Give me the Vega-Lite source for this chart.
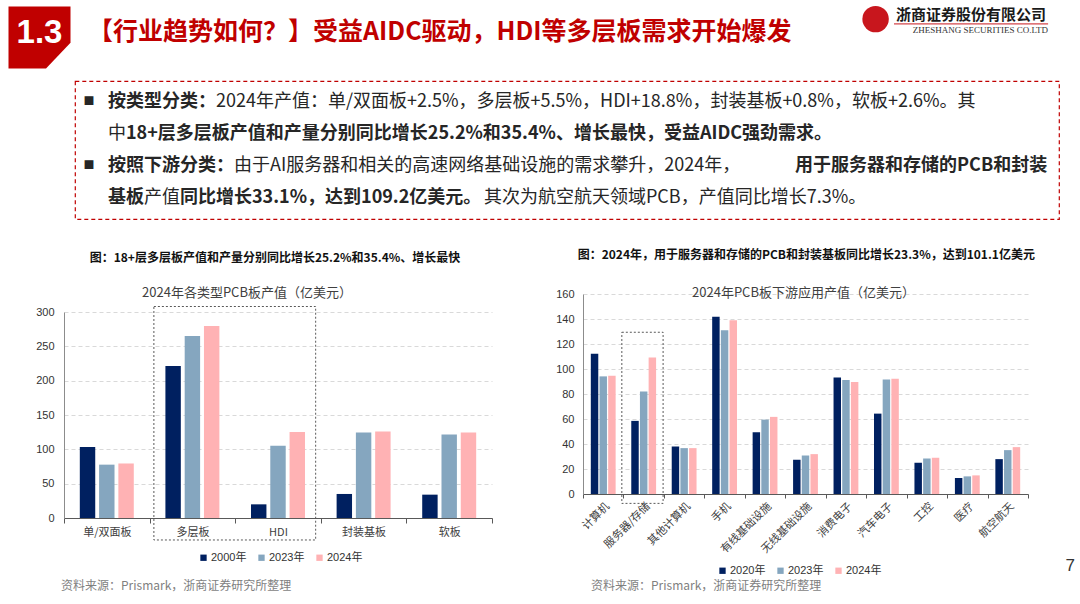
{
  "$schema": "https://vega.github.io/schema/vega-lite/v6.json",
  "background": "white",
  "padding": {"left": 8, "top": 5, "right": 0, "bottom": 0},
  "config": {
    "view": {"stroke": null},
    "font": "Noto Sans CJK SC",
    "title": {"font": "Noto Sans CJK SC"}
  },
  "spacing": 0,
  "resolve": {"scale": {"color": "independent", "xOffset": "independent"}, "legend": {"color": "independent"}},
  "vconcat": [
    {
      "spacing": 17,
      "hconcat": [
        {
          "width": 61, "height": 63,
          "data": {"values": [{"section": "1.3"}]},
          "layer": [
            {"mark": {"type": "point", "shape": "M -1 -1 L 1 -1 L 1 0.17 L 0.21 1 L -1 1 Z", "filled": true, "color": "#C00000", "size": 3844, "opacity": 1, "strokeWidth": 0}, "encoding": {}},
            {"mark": {"type": "text", "font": "Liberation Sans", "fontSize": 33, "fontWeight": "bold", "color": "#FFFFFF", "dy": -5}, "encoding": {"text": {"field": "section"}}}
          ]
        },
        {
          "width": 755, "height": 63,
          "data": {"values": [{"heading": "【行业趋势如何？】受益AIDC驱动，HDI等多层板需求开始爆发"}]},
          "mark": {"type": "text", "align": "left", "baseline": "middle", "fontSize": 25, "fontWeight": "bold", "color": "#C00000", "dy": -6},
          "encoding": {
            "x": {"datum": 0, "type": "quantitative", "scale": {"domain": [0, 1]}, "axis": null},
            "text": {"field": "heading"}
          }
        },
        {
          "width": 190, "height": 32,
          "data": {"values": [{"cn": "浙商证券股份有限公司", "en": "ZHESHANG SECURITIES CO.LTD"}]},
          "layer": [
            {"mark": {"type": "point", "shape": "circle", "filled": true, "color": "#C8161D", "size": 700, "opacity": 1},
             "encoding": {"x": {"datum": 0.082, "type": "quantitative", "scale": {"domain": [0, 1]}, "axis": null},
                          "y": {"datum": 0.41, "type": "quantitative", "scale": {"domain": [0, 1], "reverse": true}, "axis": null}}},
            {"mark": {"type": "text", "align": "right", "baseline": "middle", "fontSize": 15, "fontWeight": "bold", "color": "#1A1A1A"},
             "encoding": {"x": {"datum": 0.979, "type": "quantitative", "scale": {"domain": [0, 1]}, "axis": null},
                          "y": {"datum": 0.28, "type": "quantitative", "scale": {"domain": [0, 1], "reverse": true}, "axis": null},
                          "text": {"field": "cn"}}},
            {"mark": {"type": "rule", "color": "#C8161D", "strokeWidth": 1},
             "encoding": {"x": {"datum": 0.179, "type": "quantitative", "scale": {"domain": [0, 1]}, "axis": null},
                          "x2": {"datum": 0.99},
                          "y": {"datum": 0.56, "type": "quantitative", "scale": {"domain": [0, 1], "reverse": true}, "axis": null}}},
            {"mark": {"type": "text", "align": "right", "baseline": "middle", "fontSize": 9, "font": "Liberation Serif", "color": "#333333"},
             "encoding": {"x": {"datum": 0.99, "type": "quantitative", "scale": {"domain": [0, 1]}, "axis": null},
                          "y": {"datum": 0.76, "type": "quantitative", "scale": {"domain": [0, 1], "reverse": true}, "axis": null},
                          "text": {"field": "en"}}}
          ]
        }
      ]
    },
    {"width": 1, "height": 11, "data": {"values": []}, "mark": "text"},
    {
      "spacing": 0,
      "hconcat": [
        {"width": 65, "height": 1, "data": {"values": []}, "mark": "text"},
        {
          "width": 984, "height": 138,
          "view": {"stroke": "#C00000", "strokeDash": [4, 3], "strokeWidth": 1.2},
          "data": {"values": [
            {"line": 1, "part": "bullet", "text": "■"},
            {"line": 1, "part": "a", "text": "按类型分类："},
            {"line": 1, "part": "b", "text": "2024年产值：单/双面板+2.5%，多层板+5.5%，HDI+18.8%，封装基板+0.8%，软板+2.6%。其"},
            {"line": 2, "part": "a", "text": "中"},
            {"line": 2, "part": "b", "text": "18+层多层板产值和产量分别同比增长25.2%和35.4%、增长最快，受益AIDC强劲需求。"},
            {"line": 3, "part": "bullet", "text": "■"},
            {"line": 3, "part": "a", "text": "按照下游分类："},
            {"line": 3, "part": "b", "text": "由于AI服务器和相关的高速网络基础设施的需求攀升，2024年，"},
            {"line": 3, "part": "c", "text": "用于服务器和存储的PCB和封装"},
            {"line": 4, "part": "a", "text": "基板"},
            {"line": 4, "part": "b", "text": "产值"},
            {"line": 4, "part": "c", "text": "同比增长33.1%，达到109.2亿美元。"},
            {"line": 4, "part": "d", "text": "其次为航空航天领域PCB，产值同比增长7.3%。"}
          ]},
          "encoding": {
            "y": {"field": "line", "type": "ordinal", "scale": {"type": "point", "padding": 0.656}, "axis": null},
            "text": {"field": "text"}
          },
          "layer": [
            {"transform": [{"filter": "datum.part == 'bullet'"}],
             "mark": {"type": "text", "align": "center", "baseline": "middle", "fontSize": 11, "color": "#262626"},
             "encoding": {"x": {"datum": 0.0142, "type": "quantitative", "scale": {"domain": [0, 1]}, "axis": null}}},
            {"transform": [{"filter": "datum.part == 'a' && datum.line != 2"}],
             "mark": {"type": "text", "align": "left", "baseline": "middle", "fontSize": 18, "fontWeight": "bold", "color": "#262626"},
             "encoding": {"x": {"datum": 0.0335, "type": "quantitative", "scale": {"domain": [0, 1]}, "axis": null}}},
            {"transform": [{"filter": "datum.part == 'a' && datum.line == 2"}],
             "mark": {"type": "text", "align": "left", "baseline": "middle", "fontSize": 18, "color": "#262626"},
             "encoding": {"x": {"datum": 0.0335, "type": "quantitative", "scale": {"domain": [0, 1]}, "axis": null}}},
            {"transform": [{"filter": "datum.part == 'b' && datum.line == 1"}],
             "mark": {"type": "text", "align": "left", "baseline": "middle", "fontSize": 18, "color": "#262626", "dx": 108},
             "encoding": {"x": {"datum": 0.0335, "type": "quantitative", "scale": {"domain": [0, 1]}, "axis": null}}},
            {"transform": [{"filter": "datum.part == 'b' && datum.line == 2"}],
             "mark": {"type": "text", "align": "left", "baseline": "middle", "fontSize": 18, "fontWeight": "bold", "color": "#262626", "dx": 18},
             "encoding": {"x": {"datum": 0.0335, "type": "quantitative", "scale": {"domain": [0, 1]}, "axis": null}}},
            {"transform": [{"filter": "datum.part == 'b' && datum.line == 3"}],
             "mark": {"type": "text", "align": "left", "baseline": "middle", "fontSize": 18, "color": "#262626", "dx": 126},
             "encoding": {"x": {"datum": 0.0335, "type": "quantitative", "scale": {"domain": [0, 1]}, "axis": null}}},
            {"transform": [{"filter": "datum.part == 'c' && datum.line == 3"}],
             "mark": {"type": "text", "align": "right", "baseline": "middle", "fontSize": 18, "fontWeight": "bold", "color": "#262626"},
             "encoding": {"x": {"datum": 0.988, "type": "quantitative", "scale": {"domain": [0, 1]}, "axis": null}}},
            {"transform": [{"filter": "datum.part == 'b' && datum.line == 4"}],
             "mark": {"type": "text", "align": "left", "baseline": "middle", "fontSize": 18, "color": "#262626", "dx": 36},
             "encoding": {"x": {"datum": 0.0335, "type": "quantitative", "scale": {"domain": [0, 1]}, "axis": null}}},
            {"transform": [{"filter": "datum.part == 'c' && datum.line == 4"}],
             "mark": {"type": "text", "align": "left", "baseline": "middle", "fontSize": 18, "fontWeight": "bold", "color": "#262626", "dx": 72},
             "encoding": {"x": {"datum": 0.0335, "type": "quantitative", "scale": {"domain": [0, 1]}, "axis": null}}},
            {"transform": [{"filter": "datum.part == 'd' && datum.line == 4"}],
             "mark": {"type": "text", "align": "left", "baseline": "middle", "fontSize": 18, "color": "#262626", "dx": 376},
             "encoding": {"x": {"datum": 0.0335, "type": "quantitative", "scale": {"domain": [0, 1]}, "axis": null}}}
          ]
        }
      ]
    },
    {"width": 1, "height": 29, "data": {"values": []}, "mark": "text"},
    {
      "spacing": 25,
      "resolve": {"scale": {"color": "independent", "xOffset": "independent"}, "legend": {"color": "independent"}},
      "hconcat": [
        {"width": 1, "height": 1, "data": {"values": []}, "mark": "text"},
        {
          "spacing": 62,
          "resolve": {"scale": {"color": "independent", "xOffset": "independent"}, "legend": {"color": "independent"}},
          "hconcat": [
            {
              "title": {"text": "图：18+层多层板产值和产量分别同比增长25.2%和35.4%、增长最快", "anchor": "start", "dx": 54, "fontSize": 12, "fontWeight": "bold", "color": "#111111", "offset": 12},
              "spacing": 0,
              "vconcat": [
                {"width": 1, "height": 10, "data": {"values": []}, "mark": "text"},
                {
                  "width": 428, "height": 206,
                  "title": {"text": "2024年各类型PCB板产值（亿美元）", "frame": "group", "anchor": "middle", "dx": -31, "offset": 6, "fontSize": 13, "fontWeight": "normal", "color": "#404040"},
                  "layer": [
                    {
                      "data": {"values": [
                        {"type": "单/双面板", "year": "2000年", "value": 103.4},
                        {"type": "单/双面板", "year": "2023年", "value": 77.7},
                        {"type": "单/双面板", "year": "2024年", "value": 79.4},
                        {"type": "多层板", "year": "2000年", "value": 221.4},
                        {"type": "多层板", "year": "2023年", "value": 265.0},
                        {"type": "多层板", "year": "2024年", "value": 279.6},
                        {"type": "HDI", "year": "2000年", "value": 19.9},
                        {"type": "HDI", "year": "2023年", "value": 105.3},
                        {"type": "HDI", "year": "2024年", "value": 125.2},
                        {"type": "封装基板", "year": "2000年", "value": 35.0},
                        {"type": "封装基板", "year": "2023年", "value": 124.6},
                        {"type": "封装基板", "year": "2024年", "value": 125.8},
                        {"type": "软板", "year": "2000年", "value": 34.0},
                        {"type": "软板", "year": "2023年", "value": 121.6},
                        {"type": "软板", "year": "2024年", "value": 124.6}
                      ]},
                      "mark": {"type": "bar"},
                      "encoding": {
                        "x": {"field": "type", "type": "nominal",
                              "scale": {"domain": ["单/双面板", "多层板", "HDI", "封装基板", "软板"], "paddingInner": 0, "paddingOuter": 0},
                              "axis": {"title": null, "labelAngle": 0, "tickBand": "extent", "domainColor": "#595959", "tickColor": "#595959", "tickSize": 5, "labelPadding": 3, "labelFont": "Noto Sans CJK SC", "labelFontSize": 11, "labelColor": "#404040", "grid": false}},
                        "xOffset": {"field": "year", "type": "nominal", "scale": {"domain": ["2000年", "2023年", "2024年"], "paddingInner": 0.2, "paddingOuter": 0.82}},
                        "y": {"field": "value", "type": "quantitative", "scale": {"domain": [0, 300]},
                              "axis": {"title": null, "values": [0, 50, 100, 150, 200, 250, 300], "tickCount": 7, "labelOverlap": false, "grid": true, "gridColor": "#D9D9D9", "gridDash": [4, 3], "domainColor": "#8C8C8C", "ticks": false, "labelPadding": 10, "labelFont": "Liberation Sans", "labelFontSize": 11, "labelColor": "#333333"}},
                        "color": {"field": "year", "type": "nominal",
                                  "scale": {"domain": ["2000年", "2023年", "2024年"], "range": ["#002060", "#85A6BF", "#FFB2B4"]},
                                  "legend": {"orient": "none", "legendX": 134, "legendY": 275, "direction": "horizontal", "title": null, "symbolType": "square", "symbolSize": 40, "symbolStrokeWidth": 0, "labelFont": "Liberation Sans, Noto Sans CJK SC", "labelFontSize": 11, "labelColor": "#333333", "labelOffset": 2, "columnPadding": 9, "padding": 0}}
                      }
                    },
                    {
                      "data": {"values": [{"highlight": "多层板与HDI"}]},
                      "mark": {"type": "rect", "filled": false, "stroke": "#595959", "strokeDash": [2, 2], "strokeWidth": 1},
                      "encoding": {
                        "x": {"datum": "多层板", "type": "nominal", "bandPosition": 0.05, "title": null, "scale": {"domain": ["单/双面板", "多层板", "HDI", "封装基板", "软板"], "paddingInner": 0, "paddingOuter": 0},
                              "axis": {"title": null, "labelAngle": 0, "tickBand": "extent", "domainColor": "#595959", "tickColor": "#595959", "tickSize": 5, "labelPadding": 3, "labelFont": "Noto Sans CJK SC", "labelFontSize": 11, "labelColor": "#404040", "grid": false}},
                        "x2": {"datum": "HDI", "bandPosition": 0.94},
                        "y": {"datum": 308, "type": "quantitative", "title": null, "scale": {"domain": [0, 300]},
                              "axis": {"title": null, "values": [0, 50, 100, 150, 200, 250, 300], "tickCount": 7, "labelOverlap": false, "grid": true, "gridColor": "#D9D9D9", "gridDash": [4, 3], "domainColor": "#8C8C8C", "ticks": false, "labelPadding": 10, "labelFont": "Liberation Sans", "labelFontSize": 11, "labelColor": "#333333"}},
                        "y2": {"datum": -32}
                      }
                    }
                  ]
                }
              ]
            },
            {
              "title": {"text": "图：2024年，用于服务器和存储的PCB和封装基板同比增长23.3%，达到101.1亿美元", "anchor": "start", "dx": 22, "fontSize": 12, "fontWeight": "bold", "color": "#111111", "offset": 15},
              "spacing": 0,
              "vconcat": [
                {"width": 1, "height": 10, "data": {"values": []}, "mark": "text"},
                {
                  "width": 445, "height": 200,
                  "title": {"text": "2024年PCB板下游应用产值（亿美元）", "frame": "group", "anchor": "middle", "dx": -2, "offset": -12, "fontSize": 13, "fontWeight": "normal", "color": "#404040"},
                  "layer": [
                    {
                      "data": {"values": [
                        {"app": "计算机", "year": "2020年", "value": 112.2},
                        {"app": "计算机", "year": "2023年", "value": 94.1},
                        {"app": "计算机", "year": "2024年", "value": 94.6},
                        {"app": "服务器/存储", "year": "2020年", "value": 58.5},
                        {"app": "服务器/存储", "year": "2023年", "value": 82.0},
                        {"app": "服务器/存储", "year": "2024年", "value": 109.2},
                        {"app": "其他计算机", "year": "2020年", "value": 38.0},
                        {"app": "其他计算机", "year": "2023年", "value": 36.7},
                        {"app": "其他计算机", "year": "2024年", "value": 36.7},
                        {"app": "手机", "year": "2020年", "value": 141.9},
                        {"app": "手机", "year": "2023年", "value": 131.0},
                        {"app": "手机", "year": "2024年", "value": 139.0},
                        {"app": "有线基础设施", "year": "2020年", "value": 49.4},
                        {"app": "有线基础设施", "year": "2023年", "value": 59.5},
                        {"app": "有线基础设施", "year": "2024年", "value": 61.7},
                        {"app": "无线基础设施", "year": "2020年", "value": 27.4},
                        {"app": "无线基础设施", "year": "2023年", "value": 30.8},
                        {"app": "无线基础设施", "year": "2024年", "value": 31.9},
                        {"app": "消费电子", "year": "2020年", "value": 93.3},
                        {"app": "消费电子", "year": "2023年", "value": 91.2},
                        {"app": "消费电子", "year": "2024年", "value": 89.6},
                        {"app": "汽车电子", "year": "2020年", "value": 64.3},
                        {"app": "汽车电子", "year": "2023年", "value": 91.7},
                        {"app": "汽车电子", "year": "2024年", "value": 92.2},
                        {"app": "工控", "year": "2020年", "value": 25.0},
                        {"app": "工控", "year": "2023年", "value": 28.4},
                        {"app": "工控", "year": "2024年", "value": 29.0},
                        {"app": "医疗", "year": "2020年", "value": 12.8},
                        {"app": "医疗", "year": "2023年", "value": 14.1},
                        {"app": "医疗", "year": "2024年", "value": 14.9},
                        {"app": "航空航天", "year": "2020年", "value": 27.9},
                        {"app": "航空航天", "year": "2023年", "value": 35.1},
                        {"app": "航空航天", "year": "2024年", "value": 37.5}
                      ]},
                      "mark": {"type": "bar"},
                      "encoding": {
                        "x": {"field": "app", "type": "nominal",
                              "scale": {"domain": ["计算机", "服务器/存储", "其他计算机", "手机", "有线基础设施", "无线基础设施", "消费电子", "汽车电子", "工控", "医疗", "航空航天"], "paddingInner": 0, "paddingOuter": 0},
                              "axis": {"title": null, "labelAngle": -45, "tickBand": "extent", "domainColor": "#595959", "tickColor": "#595959", "tickSize": 4, "labelPadding": 2, "labelFont": "Noto Sans CJK SC", "labelFontSize": 11, "labelColor": "#404040", "grid": false}},
                        "xOffset": {"field": "year", "type": "nominal", "scale": {"domain": ["2020年", "2023年", "2024年"], "paddingInner": 0.14, "paddingOuter": 0.9}},
                        "y": {"field": "value", "type": "quantitative", "scale": {"domain": [0, 160]},
                              "axis": {"title": null, "values": [0, 20, 40, 60, 80, 100, 120, 140, 160], "tickCount": 9, "labelOverlap": false, "grid": true, "gridColor": "#D9D9D9", "gridDash": [4, 3], "domainColor": "#8C8C8C", "ticks": false, "labelPadding": 9, "labelFont": "Liberation Sans", "labelFontSize": 11, "labelColor": "#333333"}},
                        "color": {"field": "year", "type": "nominal",
                                  "scale": {"domain": ["2020年", "2023年", "2024年"], "range": ["#002060", "#85A6BF", "#FFB2B4"]},
                                  "legend": {"orient": "none", "legendX": 134, "legendY": 288, "direction": "horizontal", "title": null, "symbolType": "square", "symbolSize": 40, "symbolStrokeWidth": 0, "labelFont": "Liberation Sans, Noto Sans CJK SC", "labelFontSize": 11, "labelColor": "#333333", "labelOffset": 2, "columnPadding": 9, "padding": 0}}
                      }
                    },
                    {
                      "data": {"values": [{"highlight": "服务器/存储"}]},
                      "mark": {"type": "rect", "filled": false, "stroke": "#595959", "strokeDash": [2, 2], "strokeWidth": 1},
                      "encoding": {
                        "x": {"datum": "服务器/存储", "type": "nominal", "bandPosition": -0.04, "title": null, "scale": {"domain": ["计算机", "服务器/存储", "其他计算机", "手机", "有线基础设施", "无线基础设施", "消费电子", "汽车电子", "工控", "医疗", "航空航天"], "paddingInner": 0, "paddingOuter": 0},
                              "axis": {"title": null, "labelAngle": -45, "tickBand": "extent", "domainColor": "#595959", "tickColor": "#595959", "tickSize": 4, "labelPadding": 2, "labelFont": "Noto Sans CJK SC", "labelFontSize": 11, "labelColor": "#404040", "grid": false}},
                        "x2": {"datum": "服务器/存储", "bandPosition": 0.98},
                        "y": {"datum": 129.4, "type": "quantitative", "title": null, "scale": {"domain": [0, 160]},
                              "axis": {"title": null, "values": [0, 20, 40, 60, 80, 100, 120, 140, 160], "tickCount": 9, "labelOverlap": false, "grid": true, "gridColor": "#D9D9D9", "gridDash": [4, 3], "domainColor": "#8C8C8C", "ticks": false, "labelPadding": 9, "labelFont": "Liberation Sans", "labelFontSize": 11, "labelColor": "#333333"}},
                        "y2": {"datum": -7.5}
                      }
                    }
                  ]
                }
              ]
            }
          ]
        },
        {
          "width": 15, "height": 298,
          "data": {"values": [{"page": "7"}]},
          "mark": {"type": "text", "align": "right", "baseline": "bottom", "fontSize": 17, "font": "Liberation Sans", "color": "#333333"},
          "encoding": {
            "x": {"datum": 1, "type": "quantitative", "scale": {"domain": [0, 1]}, "axis": null},
            "y": {"datum": 0, "type": "quantitative", "scale": {"domain": [0, 1]}, "axis": null},
            "text": {"field": "page"}
          }
        }
      ]
    },
    {
      "spacing": 0,
      "hconcat": [
        {"width": 52, "height": 1, "data": {"values": []}, "mark": "text"},
        {
          "width": 530, "height": 20,
          "data": {"values": [{"source": "资料来源：Prismark，浙商证券研究所整理"}]},
          "mark": {"type": "text", "align": "left", "baseline": "middle", "fontSize": 12, "color": "#7F7F7F"},
          "encoding": {"x": {"datum": 0, "type": "quantitative", "scale": {"domain": [0, 1]}, "axis": null}, "text": {"field": "source"}}
        },
        {
          "width": 470, "height": 20,
          "data": {"values": [{"source": "资料来源：Prismark，浙商证券研究所整理"}]},
          "mark": {"type": "text", "align": "left", "baseline": "middle", "fontSize": 12, "color": "#7F7F7F"},
          "encoding": {"x": {"datum": 0, "type": "quantitative", "scale": {"domain": [0, 1]}, "axis": null}, "text": {"field": "source"}}
        }
      ]
    }
  ]
}
